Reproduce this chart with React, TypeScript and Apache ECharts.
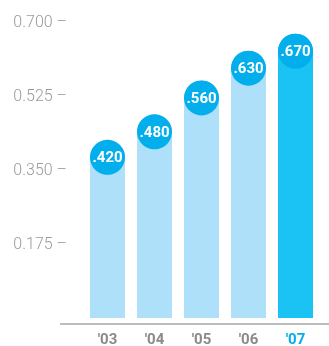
import React, { useEffect, useRef } from "react";
import * as echarts from "echarts";

const categories = ["'03", "'04", "'05", "'06", "'07"];
const values = [0.42, 0.48, 0.56, 0.63, 0.67];
const yTicks = [0, 0.175, 0.35, 0.525, 0.7];

const LIGHT = "#aee0fa";
const DARK = "#1ac3f4";
const CIRCLE = "#03aeec";

export default function App() {
  const ref = useRef<HTMLDivElement>(null);
  useEffect(() => {
    const chart = echarts.init(ref.current!, null, { renderer: "svg" });
    const last = values.length - 1;
    chart.setOption({
      animation: false,
      grid: { left: 84, right: 10, top: 21, bottom: 22 },
      xAxis: {
        type: "category",
        data: categories,
        axisLine: { show: false },
        axisTick: { show: false },
        axisLabel: {
          margin: 13,
          fontFamily: "Roboto",
          fontWeight: "bold",
          fontSize: 15,
          color: (v: string) => (v === categories[last] ? CIRCLE : "#8a8a8a"),
        },
      },
      yAxis: {
        type: "value",
        min: yTicks[0],
        max: yTicks[yTicks.length - 1],
        interval: 0.175,
        splitLine: { show: false },
        axisLine: { show: false },
        axisTick: { show: false },
        axisLabel: {
          margin: 17,
          fontFamily: "Roboto",
          fontWeight: 300,
          fontSize: 16,
          color: "#9a9a9a",
          formatter: (v: number) => (v === 0 ? "" : v.toFixed(3) + " \u2013"),
        },
      },
      graphic: [
        {
          type: "line",
          shape: { x1: 60, y1: 324, x2: 329, y2: 324 },
          style: { stroke: "#bdbdbd", lineWidth: 2 },
          z: 10,
        },
      ],
      series: [
        {
          type: "bar",
          barWidth: 35,
          data: values.map((v, i) => ({
            value: v,
            itemStyle: {
              color: i === last ? DARK : LIGHT,
              borderRadius: [17.5, 17.5, 0, 0],
            },
          })),
        },
        {
          type: "scatter",
          symbol: "circle",
          symbolSize: 35,
          symbolOffset: [0, 17.5],
          z: 5,
          itemStyle: { color: CIRCLE, opacity: 1 },
          label: {
            show: true,
            position: "inside",
            color: "#fff",
            fontFamily: "Roboto",
            fontWeight: "bold",
            fontSize: 15,
            formatter: (p: any) => p.value.toFixed(3).slice(1),
          },
          data: values,
        },
      ],
    });
    return () => chart.dispose();
  }, []);
  return (
    <div
      ref={ref}
      style={{ position: "fixed", left: 0, top: 0, width: 329, height: 346 }}
    />
  );
}
